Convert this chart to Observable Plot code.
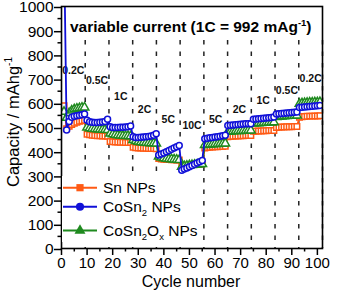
<!DOCTYPE html>
<html><head><meta charset="utf-8">
<script src="https://cdn.jsdelivr.net/npm/d3@7"></script>
<script src="https://cdn.jsdelivr.net/npm/@observablehq/plot@0.6"></script>
<style>
body{margin:0;background:#fff;}
svg{font-family:"Liberation Sans",Arial,sans-serif;}
</style>
</head><body><div id="chart"></div>
<script>
// ---- data ----
const rateLabels = ["0.2C","0.5C","1C","2C","5C","10C","5C","2C","1C","0.5C","0.2C"];
const rateLabelY = [735, 695, 628, 573, 531, 507, 533, 573, 612, 651, 703];
const segmentSizes = [9, 9, 9, 10, 9, 9, 9, 10, 9, 9, 9];
const rateBoundaries = [9.27, 18.55, 27.82, 37.09, 46.36, 55.64, 64.91, 74.18, 83.45, 92.73, 102];
const snValues = [
  590, 495, 505, 512, 518, 522, 526, 528, 530,
  472, 470, 468, 467, 466, 466, 465, 465, 464,
  442, 441, 440, 440, 439, 439, 438, 438, 438,
  418, 416, 415, 415, 414, 414, 413, 413, 413, 412,
  372, 370, 369, 368, 368, 367, 367, 366, 366,
  340, 342, 344, 345, 346, 347, 348, 349, 350,
  415, 417, 418, 419, 420, 420, 421, 421, 422,
  462, 463, 464, 465, 465, 466, 466, 467, 467, 467,
  484, 485, 486, 486, 487, 487, 488, 488, 488,
  500, 501, 502, 502, 503, 503, 503, 504, 504,
  542, 544, 545, 546, 547, 547, 548, 548, 549
];
const cosn2Values = [
  1250, 490, 525, 542, 546, 549, 551, 553, 556,
  530, 524, 522, 521, 521, 522, 523, 525, 534,
  503, 500, 500, 500, 501, 501, 502, 503, 506,
  462, 459, 459, 460, 461, 462, 463, 465, 468, 474,
  386, 390, 395, 400, 405, 410, 415, 420, 426,
  323, 328, 333, 338, 343, 348, 353, 358, 364,
  454, 456, 458, 459, 461, 462, 464, 466, 468,
  508, 509, 510, 511, 512, 513, 514, 515, 515, 516,
  534, 535, 536, 537, 538, 539, 540, 541, 543,
  556, 557, 558, 559, 560, 561, 562, 563, 564,
  583, 584, 585, 586, 587, 588, 589, 590, 591
];
const cosn2oxValues = [
  565, 540, 560, 570, 575, 578, 580, 582, 583,
  500, 497, 495, 494, 493, 492, 491, 491, 490,
  475, 472, 470, 468, 467, 466, 465, 465, 464,
  448, 444, 441, 439, 438, 437, 436, 435, 435, 434,
  380, 376, 373, 371, 370, 369, 368, 367, 366,
  338, 340, 342, 344, 345, 346, 347, 348, 349,
  428, 429, 430, 431, 432, 432, 433, 433, 434,
  482, 483, 484, 485, 486, 486, 487, 487, 488, 488,
  516, 517, 518, 519, 520, 520, 521, 521, 522,
  543, 544, 545, 546, 547, 548, 548, 549, 550,
  598, 600, 601, 602, 603, 603, 604, 604, 605
];
const xTicks = [0,10,20,30,40,50,60,70,80,90,100];
const xMinorTicks = [5,15,25,35,45,55,65,75,85,95];
const yTicks = [0,100,200,300,400,500,600,700,800,900,1000];
const yMinorTicks = [50,150,250,350,450,550,650,750,850,950];

// ---- build ----
const FONT = '"Liberation Sans",Arial,sans-serif';
const cycles = snValues.map((_, i) => i + 1);
const seriesDefs = [
  {name:"Sn", values: snValues, color:"#ff5a14", symbol:"square", r:3.1},
  {name:"CoSn2Ox", values: cosn2oxValues, color:"#1f8a1f", symbol:"triangle", r:3.2},
  {name:"CoSn2", values: cosn2Values, color:"#1010d8", symbol:"circle", r:3.0}
];
const rows = [];
for (const s of seriesDefs) s.values.forEach((v,i)=>rows.push({series:s.name, cycle:cycles[i], value:v}));
const segStarts = [0, ...rateBoundaries.slice(0,-1)];
const labelRows = rateLabels.map((t,i)=>({text:t, x:(segStarts[i]+rateBoundaries[i])/2, y:rateLabelY[i]}));

const marks = [
  Plot.ruleX(rateBoundaries, {x:d=>d, y1:860, y2:0, stroke:"#222", strokeWidth:1.5, strokeDasharray:"4.5,7"}),
  Plot.text(labelRows, {x:"x", y:"y", text:"text", fontWeight:"bold", fontSize:10.5, fill:"#111"})
];
for (const s of seriesDefs) {
  const d = rows.filter(r=>r.series===s.name);
  marks.push(Plot.line(d, {x:"cycle", y:"value", stroke:s.color, strokeWidth:1.8, clip:true}));
  marks.push(Plot.dot(d, {x:"cycle", y:"value", symbol:s.symbol, r:s.r, stroke:s.color, strokeWidth:1.5, fill:"white", clip:true}));
}
const fmt = d => String(d);
marks.push(
  Plot.axisY({ticks:yTicks, tickSize:7, tickPadding:1, strokeWidth:1.5, fontSize:15.5, dy:1, tickFormat:fmt, label:null}),
  Plot.axisY({ticks:yMinorTicks, tickSize:3.5, strokeWidth:1.5, tickFormat:()=>"", label:null}),
  Plot.axisX({ticks:xTicks, tickSize:7, tickPadding:2, strokeWidth:1.5, fontSize:15, tickFormat:fmt, label:null}),
  Plot.axisX({ticks:xMinorTicks, tickSize:3.5, strokeWidth:1.5, tickFormat:()=>"", label:null}),
  Plot.frame({stroke:"#000", strokeWidth:1.6})
);

const chart = Plot.plot({
  width:339, height:292,
  marginLeft:61, marginRight:17, marginTop:6, marginBottom:44,
  x:{domain:[0,102]}, y:{domain:[0,1000]},
  style:{fontFamily:FONT, fontSize:"15.5px", color:"#000", background:"#fff", overflow:"visible"},
  marks
});
document.getElementById("chart").appendChild(chart);

// ---- annotations (title, axis labels, legend) ----
const svg = d3.select(chart);
// title
const title = svg.append("text").attr("x",70).attr("y",32).attr("text-anchor","start")
  .style("font-size","15.5px").attr("font-weight","bold").attr("fill","#000");
title.append("tspan").text("variable current (1C = 992 mAg");
title.append("tspan").style("font-size","9.5px").attr("dy",-6.5).text("-1");
title.append("tspan").attr("dy",6.5).text(")");
// y label
const yl = svg.append("text").attr("transform","translate(18.5,122) rotate(-90)").attr("text-anchor","middle")
  .style("font-size","16.5px").attr("fill","#000");
yl.append("tspan").text("Capacity / mAhg");
yl.append("tspan").style("font-size","10px").attr("dy",-7).text("-1");
// x label
svg.append("text").attr("x",191).attr("y",287).attr("text-anchor","middle").style("font-size","16px").attr("fill","#000").text("Cycle number");
// legend
const lg = svg.append("g");
lg.append("rect").attr("x",62).attr("y",176).attr("width",137).attr("height",66).attr("fill","#fff");
const legendRows = [
  {color:"#ff5a14", symbol:d3.symbolSquare, y:187.7, parts:[["Sn NPs",0]]},
  {color:"#1010d8", symbol:d3.symbolCircle, y:206.7, parts:[["CoSn",0],["2",1],[" NPs",0]]},
  {color:"#1f8a1f", symbol:d3.symbolTriangle, y:230.5, parts:[["CoSn",0],["2",1],["O",0],["x",1],[" NPs",0]]}
];
for (const r of legendRows) {
  lg.append("line").attr("x1",63).attr("x2",97).attr("y1",r.y).attr("y2",r.y).attr("stroke",r.color).attr("stroke-width",2);
  lg.append("path").attr("d",d3.symbol(r.symbol, 52)()).attr("transform",`translate(80,${r.y})`).attr("fill",r.color);
  const t = lg.append("text").attr("x",103).attr("y",r.y+5.3).attr("text-anchor","start").style("font-size","15.5px").attr("fill","#000");
  let prevSub = 0;
  for (const [s,sub] of r.parts) {
    const dy = sub===prevSub ? 0 : (sub ? 4 : -4);
    t.append("tspan").style("font-size", sub?"9.5px":"15.5px").attr("dy",dy).text(s);
    prevSub = sub;
  }
}
</script>
</body></html>
